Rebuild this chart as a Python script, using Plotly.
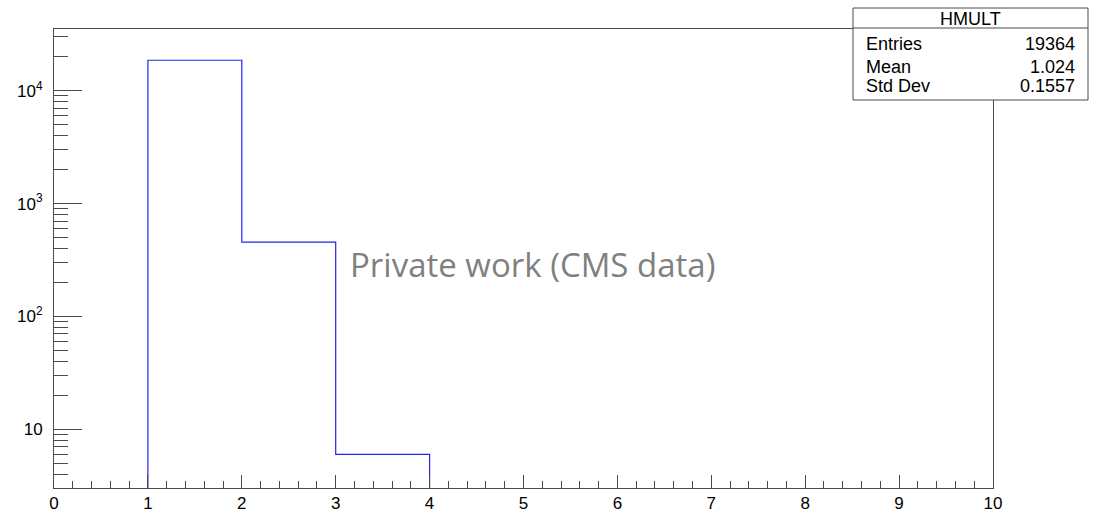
import math
import plotly.graph_objects as go

# ---- data ----
bin_edges = [1, 2, 3, 4]
bin_counts = [18600, 455, 6]
x_ticks = [0, 1, 2, 3, 4, 5, 6, 7, 8, 9, 10]
y_major = [10, 100, 1000, 10000]
y_major_text = ["10", "10<sup>2</sup>", "10<sup>3</sup>", "10<sup>4</sup>"]
stats_title = "HMULT"
stats_names = ["Entries", "Mean", "Std Dev"]
stats_values = ["19364", "1.024", "0.1557"]
watermark = "Private work (CMS data)"

W, H = 1100, 513
L, R, T, B = 54, 993, 29, 488  # plot frame in pixels
y_lo, y_hi = 3.02, 35200

def px(x):
    return (x - L) / (R - L)

def py(y):
    return (B - y) / (B - T)

# histogram outline (step), dropping to below the axis minimum at both ends
base = y_lo / 10
hx = [bin_edges[0]] + bin_edges + [bin_edges[-1]]
hy = [base] + bin_counts + [bin_counts[-1], base]

fig = go.Figure()
fig.add_trace(go.Scatter(
    x=hx, y=hy, mode="lines", line=dict(shape="hv", color="#2424e6", width=1.2),
    hoverinfo="skip", showlegend=False,
))

# y minor ticks
y_minor = []
for d in [1, 10, 100, 1000, 10000]:
    for m in range(2, 10):
        v = m * d
        if y_lo <= v <= y_hi:
            y_minor.append(v)

axcol = "#4a4a4a"
fig.update_layout(
    template="none",
    width=W, height=H,
    margin=dict(l=L, r=W - R, t=T, b=H - B, pad=0, autoexpand=False),
    paper_bgcolor="white", plot_bgcolor="white",
    showlegend=False,
    font=dict(family="Liberation Sans, Arial, sans-serif", color="black"),
    xaxis=dict(
        range=[0, 10], tickmode="array", tickvals=x_ticks, ticktext=[str(v) for v in x_ticks],
        ticks="inside", ticklen=13, tickwidth=1, tickcolor=axcol, automargin=False,
        showline=True, linecolor=axcol, linewidth=1, mirror=True,
        showgrid=False, zeroline=False,
        tickfont=dict(size=17, color="black"),
        minor=dict(dtick=0.2, tick0=0, ticks="inside", ticklen=7, tickcolor=axcol, tickwidth=1, showgrid=False),
    ),
    yaxis=dict(
        type="log", range=[math.log10(y_lo), math.log10(y_hi)],
        tickmode="array", tickvals=y_major, ticktext=y_major_text,
        ticks="inside", ticklen=28, tickwidth=1, tickcolor=axcol, automargin=False,
        showline=True, linecolor=axcol, linewidth=1, mirror=True,
        showgrid=False, zeroline=False,
        tickfont=dict(size=17, color="black"),
        ticklabelstandoff=7,
        minor=dict(tickmode="array", tickvals=y_minor, ticks="inside", ticklen=14,
                   tickcolor=axcol, tickwidth=1, showgrid=False),
    ),
)

# stats box
bx0, bx1, by0, by1, bsep = 853, 1088, 8, 100, 28
fig.add_shape(type="rect", xref="paper", yref="paper",
              x0=px(bx0), x1=px(bx1), y0=py(by1), y1=py(by0),
              line=dict(color=axcol, width=1), fillcolor="white", layer="above")
fig.add_shape(type="line", xref="paper", yref="paper",
              x0=px(bx0), x1=px(bx1), y0=py(bsep), y1=py(bsep),
              line=dict(color=axcol, width=1), layer="above")
fig.add_annotation(xref="paper", yref="paper", x=px((bx0 + bx1) / 2), y=py(18.5),
                   text=stats_title, showarrow=False, xanchor="center", yanchor="middle",
                   font=dict(size=18, color="black"))
rows_y = [43.5, 67, 86.5]
for name, val, ry in zip(stats_names, stats_values, rows_y):
    fig.add_annotation(xref="paper", yref="paper", x=px(864), y=py(ry), text=name,
                       showarrow=False, xanchor="left", yanchor="middle",
                       font=dict(size=18, color="black"))
    fig.add_annotation(xref="paper", yref="paper", x=px(1077), y=py(ry), text=val,
                       showarrow=False, xanchor="right", yanchor="middle",
                       font=dict(size=18, color="black"))

# watermark text
fig.add_annotation(xref="paper", yref="paper", x=px(348), y=py(264), text=watermark,
                   showarrow=False, xanchor="left", yanchor="middle",
                   font=dict(family="Open Sans, sans-serif", size=33, color="#808080"))

fig.write_html("out.html", config={"displayModeBar": False},
               post_script="document.body.style.margin='0';")
